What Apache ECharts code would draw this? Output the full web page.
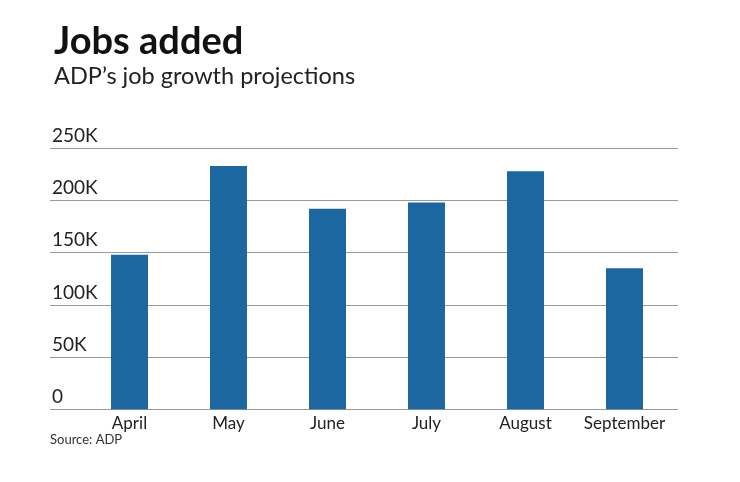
<!DOCTYPE html>
<html><head><meta charset="utf-8">
<script src="https://cdn.jsdelivr.net/npm/echarts@6/dist/echarts.min.js"></script>
<style>html,body{margin:0;padding:0;background:#fff}#c{width:740px;height:482px}</style>
</head><body><div id="c"></div>
<script>
const categories = ['April','May','June','July','August','September'];
const jobsAdded = [148000, 233000, 192000, 198000, 228000, 135000];
const yTicks = [0, 50000, 100000, 150000, 200000, 250000];
const yTickLabels = ['0','50K','100K','150K','200K','250K'];

const FONT = 'Lato, "Noto Sans", sans-serif';
const chart = echarts.init(document.getElementById('c'), null, {renderer:'canvas'});
const gridTop = 148.3, gridBottom = 482 - 409.3;
chart.setOption({
  animation:false,
  backgroundColor:'#fff',
  title:[
    {text:'Jobs added', left:49, top:18, textStyle:{fontFamily:FONT, fontWeight:'bold', fontSize:38, color:'#111'}},
    {text:"ADP\u2019s job growth projections", left:49, top:59, textStyle:{fontFamily:FONT, fontWeight:'normal', fontSize:23.5, color:'#222'}}
  ],
  graphic:[{type:'text', left:50, top:433, style:{text:'Source: ADP', font:'13px '+FONT, fill:'#333'}}],
  grid:[
    {left:50, right:62, top:gridTop, bottom:gridBottom},
    {left:80, right:66, top:gridTop, bottom:gridBottom}
  ],
  xAxis:[
    {gridIndex:0, type:'value', show:false, min:0, max:1},
    {gridIndex:1, type:'category', data:categories,
     axisLine:{show:false}, axisTick:{show:false},
     axisLabel:{interval:0, fontFamily:FONT, fontSize:17, color:'#222', margin:6}}
  ],
  yAxis:[
    {gridIndex:0, type:'value', min:0, max:250000, interval:50000,
     axisLine:{show:false}, axisTick:{show:false},
     splitLine:{lineStyle:{color:'#9a9a9a', width:1}},
     axisLabel:{inside:true, verticalAlign:'bottom', align:'left', margin:2, padding:[0,0,3,0],
       fontFamily:FONT, fontSize:19, color:'#222',
       formatter:v=>{const i=yTicks.indexOf(v); return i>=0?yTickLabels[i]:'';}}},
    {gridIndex:1, type:'value', min:0, max:250000, show:false}
  ],
  series:[{type:'bar', xAxisIndex:1, yAxisIndex:1, data:jobsAdded, barWidth:37,
    itemStyle:{color:'#1c67a0'}, z:3}]
});
</script></body></html>
